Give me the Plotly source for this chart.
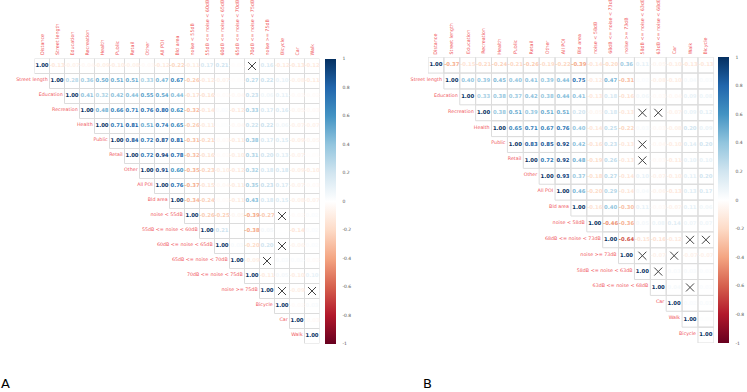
import plotly.graph_objects as go

# ---------------- DATA ----------------
labels_a = ["Distance", "Street length", "Education", "Recreation", "Health", "Public",
            "Retail", "Other", "All POI", "Bld area", "noise < 55dB", "55dB <= noise < 60dB",
            "60dB <= noise < 65dB", "65dB <= noise < 70dB", "70dB <= noise < 75dB",
            "noise >= 75dB", "Bicycle", "Car", "Walk"]

# upper triangle rows (values right of the diagonal); None = crossed (insignificant)
upper_a = [
    [-0.13, -0.07, -0.04, -0.09, -0.10, -0.08, -0.03, -0.12, -0.22, -0.11, 0.17, 0.21, -0.01, None, 0.16, -0.12, -0.13, -0.12],
    [0.28, 0.36, 0.50, 0.51, 0.51, 0.33, 0.47, 0.67, -0.26, -0.12, -0.07, -0.01, 0.27, 0.22, 0.10, -0.08, -0.11],
    [0.41, 0.32, 0.42, 0.44, 0.55, 0.54, 0.44, -0.17, -0.16, -0.02, -0.04, 0.23, 0.06, 0.11, -0.03, -0.02],
    [0.48, 0.66, 0.71, 0.76, 0.80, 0.62, -0.32, -0.14, 0.02, -0.12, 0.33, 0.17, 0.16, -0.05, -0.03],
    [0.71, 0.81, 0.51, 0.74, 0.65, -0.26, -0.11, 0.01, -0.04, 0.22, 0.22, 0.06, -0.07, -0.07],
    [0.84, 0.72, 0.87, 0.81, -0.31, -0.21, -0.03, -0.11, 0.38, 0.17, 0.15, -0.09, -0.05],
    [0.72, 0.94, 0.78, -0.32, -0.16, -0.02, -0.10, 0.31, 0.20, 0.13, -0.07, -0.01],
    [0.91, 0.60, -0.35, -0.23, -0.10, -0.12, 0.32, 0.18, 0.18, -0.09, -0.10],
    [0.76, -0.37, -0.15, -0.04, -0.11, 0.35, 0.23, 0.17, -0.07, -0.03],
    [-0.34, -0.24, -0.02, -0.11, 0.43, 0.18, 0.15, -0.08, -0.07],
    [-0.26, -0.25, -0.05, -0.39, -0.27, None, -0.02, 0.02],
    [0.21, 0.00, -0.38, 0.05, 0.00, -0.14, 0.02],
    [0.03, -0.20, 0.20, None, -0.06, 0.02],
    [-0.09, None, 0.03, 0.02, -0.02],
    [-0.11, 0.05, -0.10, 0.10],
    [None, -0.09, None],
    [-0.02, 0.03],
    [-0.03],
    [],
]

labels_b = ["Distance", "Street length", "Education", "Recreation", "Health", "Public",
            "Retail", "Other", "All POI", "Bld area", "noise < 58dB", "68dB <= noise < 73dB",
            "noise >= 73dB", "58dB <= noise < 63dB", "63dB <= noise < 68dB", "Car", "Walk",
            "Bicycle"]

upper_b = [
    [-0.37, -0.15, -0.21, -0.24, -0.21, -0.26, -0.19, -0.22, -0.39, -0.14, -0.20, 0.36, 0.11, -0.05, -0.10, -0.13, -0.13],
    [0.40, 0.39, 0.45, 0.40, 0.41, 0.39, 0.44, 0.75, -0.12, 0.47, -0.31, 0.02, -0.08, -0.10, 0.04, 0.03],
    [0.33, 0.38, 0.37, 0.42, 0.38, 0.44, 0.41, -0.13, 0.18, -0.16, 0.06, -0.03, -0.04, 0.09, 0.08],
    [0.38, 0.51, 0.39, 0.51, 0.51, 0.20, -0.05, 0.18, -0.13, None, None, -0.07, 0.09, 0.12],
    [0.65, 0.71, 0.67, 0.76, 0.40, -0.14, 0.25, -0.22, 0.03, -0.03, -0.08, 0.20, 0.09],
    [0.83, 0.85, 0.92, 0.42, -0.16, 0.23, -0.13, None, -0.04, -0.10, 0.14, 0.20],
    [0.72, 0.92, 0.48, -0.19, 0.26, -0.13, None, -0.03, -0.11, 0.10, 0.10],
    [0.93, 0.37, -0.18, 0.27, -0.14, 0.10, -0.07, -0.10, 0.11, 0.20],
    [0.46, -0.20, 0.29, -0.14, 0.04, -0.06, -0.13, 0.13, 0.17],
    [-0.16, 0.40, -0.30, 0.11, -0.03, -0.07, 0.11, 0.06],
    [-0.46, -0.36, 0.05, 0.08, 0.14, 0.07, 0.07],
    [-0.64, -0.15, -0.16, -0.12, None, None],
    [None, -0.07, None, -0.07, -0.07],
    [None, 0.03, 0.03, 0.02],
    [0.04, None, 0.02],
    [0.02, 0.03],
    [0.01],
    [],
]

cbar_ticks = [1, 0.8, 0.6, 0.4, 0.2, 0, -0.2, -0.4, -0.6, -0.8, -1]
cbar_ticktext = ["1", "0.8", "0.6", "0.4", "0.2", "0", "-0.2", "-0.4", "-0.6", "-0.8", "-1"]

# ---------------- STYLE ----------------
W, H = 747, 392
rdbu_hex = ["#67001F", "#B2182B", "#D6604D", "#F4A582", "#FDDBC7", "#FFFFFF",
            "#D1E5F0", "#92C5DE", "#4393C3", "#2166AC", "#053061"]
colorscale = [[i / 10, c] for i, c in enumerate(rdbu_hex)]
LABEL_COLOR = "#f0565c"
GRID_COLOR = "#dcdcdc"


def hex2rgb(h):
    h = h.lstrip("#")
    return tuple(int(h[k:k + 2], 16) for k in (0, 2, 4))


def val_color(v):
    t = (v + 1) / 2 * 10
    i = min(int(t), 9)
    f = t - i
    a, b = hex2rgb(rdbu_hex[i]), hex2rgb(rdbu_hex[i + 1])
    c = [round(a[k] + (b[k] - a[k]) * f) for k in range(3)]
    return "rgb(%d,%d,%d)" % tuple(c)


panels = [
    dict(labels=labels_a, upper=upper_a, ax="", left=34.5, top=58.5, cell=15.0, cb=325, letter="A", lx=6),
    dict(labels=labels_b, upper=upper_b, ax="2", left=428.0, top=57.2, cell=15.88, cb=718, letter="B", lx=427),
]

fig = go.Figure()
shapes = []
annotations = []
layout_axes = {}

for p in panels:
    labs, up, ax = p["labels"], p["upper"], p["ax"]
    n = len(labs)
    size = n * p["cell"]
    xd = [p["left"] / W, (p["left"] + size) / W]
    yd = [1 - (p["top"] + size) / H, 1 - p["top"] / H]
    xname, yname = "x" + ax, "y" + ax
    layout_axes["xaxis" + ax] = dict(domain=xd, range=[-0.5, n - 0.5], visible=False,
                                     anchor=yname, fixedrange=True)
    layout_axes["yaxis" + ax] = dict(domain=yd, range=[n - 0.5, -0.5], visible=False,
                                     anchor=xname, fixedrange=True)

    tx, ty, tt, tc = [], [], [], []
    crx, cry = [], []
    for i in range(n):
        row = [1.0] + up[i]
        for k, v in enumerate(row):
            j = i + k
            shapes.append(dict(type="rect", xref=xname, yref=yname,
                               x0=j - 0.5, x1=j + 0.5, y0=i - 0.5, y1=i + 0.5,
                               line=dict(color=GRID_COLOR, width=1), layer="below"))
            if v is None:
                crx.append(j)
                cry.append(i)
            else:
                tx.append(j)
                ty.append(i)
                tt.append("%.2f" % v)
                tc.append(val_color(v))

    fig.add_trace(go.Scatter(x=tx, y=ty, text=tt, mode="text", xaxis=xname, yaxis=yname,
                             textfont=dict(color=tc, size=5.3, family="DejaVu Sans", weight="bold"),
                             hoverinfo="skip", showlegend=False, cliponaxis=False))
    fig.add_trace(go.Scatter(x=crx, y=cry, mode="markers", xaxis=xname, yaxis=yname,
                             marker=dict(symbol="x-thin-open", size=8, color="#444444",
                                         line=dict(color="#444444", width=1)),
                             hoverinfo="skip", showlegend=False, cliponaxis=False))
    # row labels
    fig.add_trace(go.Scatter(x=[i - 0.62 for i in range(n)], y=[i - 0.08 for i in range(n)],
                             text=labs, mode="text", textposition="middle left",
                             xaxis=xname, yaxis=yname,
                             textfont=dict(color=LABEL_COLOR, size=4.8, family="DejaVu Sans"),
                             hoverinfo="skip", showlegend=False, cliponaxis=False))
    # column labels
    for j, lab in enumerate(labs):
        annotations.append(dict(x=j, y=-0.5, xref=xname, yref=yname, text=lab, textangle=-90,
                                xanchor="center", yanchor="bottom", showarrow=False, yshift=1,
                                font=dict(color=LABEL_COLOR, size=4.8, family="DejaVu Sans")))
    # colorbar
    cb_center = p["top"] + size / 2
    fig.add_trace(go.Scatter(x=[None], y=[None], mode="markers", xaxis=xname, yaxis=yname,
                             showlegend=False, hoverinfo="skip",
                             marker=dict(color=[0], cmin=-1, cmax=1, colorscale=colorscale,
                                         showscale=True,
                                         colorbar=dict(x=p["cb"] / W, xanchor="left", xpad=0,
                                                       y=1 - cb_center / H, yanchor="middle", ypad=0,
                                                       len=size, lenmode="pixels",
                                                       thickness=11, thicknessmode="pixels",
                                                       outlinewidth=0, ticks="outside", ticklen=6,
                                                       tickcolor="rgba(0,0,0,0)",
                                                       tickvals=cbar_ticks, ticktext=cbar_ticktext,
                                                       tickfont=dict(size=4.5, color="#555555",
                                                                     family="DejaVu Sans")))))
    annotations.append(dict(x=p["lx"] / W, y=1 - 383 / H, xref="paper", yref="paper",
                            text=p["letter"], showarrow=False, xanchor="center", yanchor="middle",
                            font=dict(size=13, color="#000000", family="DejaVu Sans")))

fig.update_layout(width=W, height=H, margin=dict(l=0, r=0, t=0, b=0),
                  paper_bgcolor="white", plot_bgcolor="white",
                  shapes=shapes, annotations=annotations, **layout_axes)

fig.write_html("out.html")
